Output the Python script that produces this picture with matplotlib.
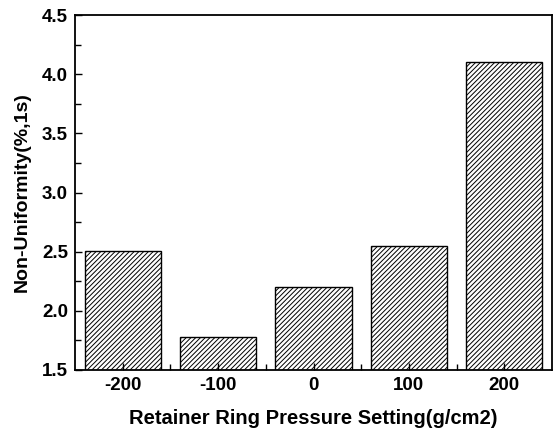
import matplotlib
matplotlib.use("Agg")
import matplotlib.pyplot as plt
from matplotlib.ticker import MultipleLocator, FixedLocator

categories = ["-200", "-100", "0", "100", "200"]
values = [2.505, 1.78, 2.20, 2.55, 4.10]

plt.rcParams['font.family'] = ['Liberation Sans', 'DejaVu Sans']
plt.rcParams['font.weight'] = 'bold'
plt.rcParams['hatch.linewidth'] = 0.7

fig = plt.figure(figsize=(5.57, 4.32), dpi=100)
ax = fig.add_axes([75/557, 1-370/432, (552-75)/557, (370-15)/432])

pos = list(range(1, len(categories) + 1))
ax.bar(pos, values, width=0.8, bottom=0, color='white', edgecolor='black',
       hatch='///////', linewidth=1.0)

ax.set_xlim(0.5, 5.5)
ax.set_ylim(1.5, 4.5)
ax.set_xticks(pos)
ax.set_xticklabels(categories)
ax.xaxis.set_minor_locator(FixedLocator([p + 0.5 for p in pos[:-1]]))
ax.yaxis.set_major_locator(MultipleLocator(0.5))
ax.yaxis.set_minor_locator(MultipleLocator(0.25))
ax.tick_params(which='major', direction='in', length=5, width=1, labelsize=13.5, pad=5)
ax.tick_params(which='minor', direction='in', length=4, width=1)
for s in ax.spines.values():
    s.set_linewidth(1.3)
for lab in ax.get_xticklabels() + ax.get_yticklabels():
    lab.set_fontweight('bold')

ax.set_xlabel("Retainer Ring Pressure Setting(g/cm2)", fontsize=14.5, fontweight='bold', labelpad=11)
ax.set_ylabel("Non-Uniformity(%,1s)", fontsize=14, fontweight='bold', labelpad=8)

fig.savefig("out.png", dpi=100)
